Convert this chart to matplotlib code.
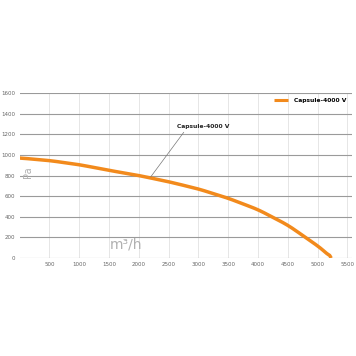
import numpy as np
import matplotlib.pyplot as plt

# curve
flow = [0, 500, 1000, 1500, 2000, 2500, 3000, 3500, 4000, 4500, 4800, 5000, 5150, 5230]
pressure = [970, 945, 905, 850, 800, 740, 670, 580, 470, 320, 200, 120, 50, 0]
xticks = [500, 1000, 1500, 2000, 2500, 3000, 3500, 4000, 4500, 5000, 5500]
yticks = [0, 200, 400, 600, 800, 1000, 1200, 1400, 1600]
name = "Capsule-4000 V"

ORANGE = "#f28a1c"

fig = plt.figure(figsize=(3.56, 3.56), dpi=100)
ax = fig.add_axes([0.055, 0.275, 0.934, 0.464])

# smooth the read points a little
xs = np.linspace(0, flow[-1], 200)
ys = np.interp(xs, flow, pressure)
k = np.ones(9) / 9
ys_s = np.convolve(np.pad(ys, 4, mode="edge"), k, mode="valid")
ys_s[0], ys_s[-1] = pressure[0], pressure[-1]
ax.plot(xs, ys_s, color=ORANGE, lw=2.5, solid_capstyle="butt", label=name, zorder=3)

ax.set_xlim(0, 5580)
ax.set_ylim(0, 1600)
ax.set_xticks(xticks)
ax.set_yticks(yticks)
ax.tick_params(length=0, labelsize=4, colors="#666666", pad=3)
ax.grid(axis="y", color="#9a9a9a", lw=0.8)
ax.grid(axis="x", color="#e2e2e2", lw=0.6)
ax.set_axisbelow(True)
for s in ax.spines.values():
    s.set_visible(False)

ax.text(1790, 60, "m³/h", color="#b0b0b0", fontsize=10, ha="center", va="bottom")
ax.text(140, 830, "Pa", color="#b0b0b0", fontsize=7, rotation=90, ha="center", va="center")

ax.annotate(name, xy=(2200, 786), xytext=(3080, 1270),
            fontsize=4.3, fontweight="bold", color="#222222", ha="center", va="center",
            arrowprops=dict(arrowstyle="-", color="#777777", lw=0.5,
                            shrinkA=0, shrinkB=0, relpos=(0.17, 0)))

leg = ax.legend(loc="upper right", bbox_to_anchor=(1.0, 1.0), frameon=False,
                prop={"size": 4.3, "weight": "bold"}, handlelength=2.4, handletextpad=1.0)
for line in leg.get_lines():
    line.set_linewidth(2.2)

fig.savefig("out.png", dpi=100)
